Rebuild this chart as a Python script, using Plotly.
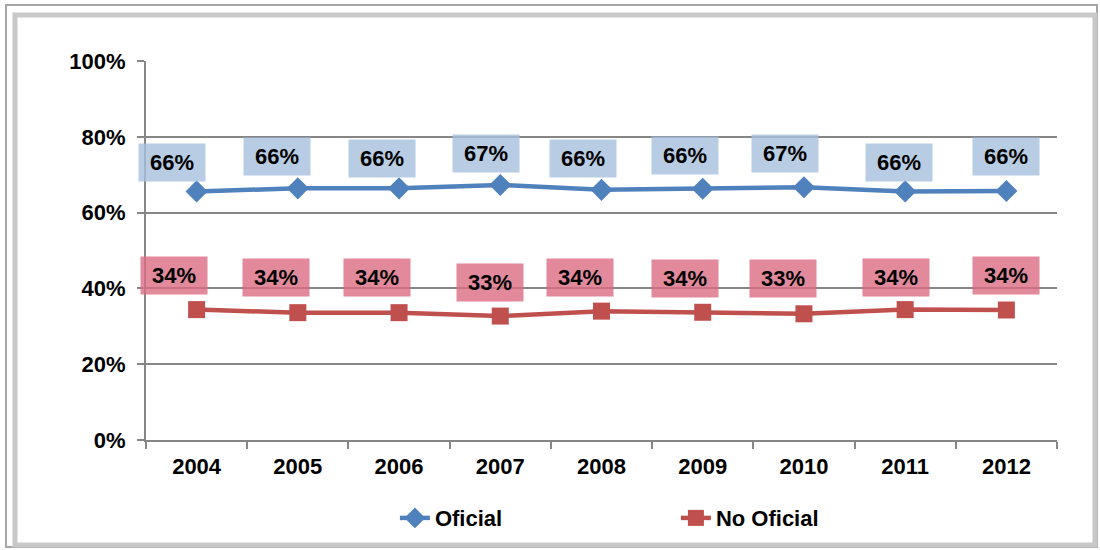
import plotly.graph_objects as go

years = ["2004", "2005", "2006", "2007", "2008", "2009", "2010", "2011", "2012"]
oficial = [65.6, 66.4, 66.4, 67.3, 66.0, 66.3, 66.7, 65.6, 65.7]
no_oficial = [34.4, 33.6, 33.6, 32.7, 34.0, 33.7, 33.3, 34.4, 34.3]
oficial_labels = ["66%", "66%", "66%", "67%", "66%", "66%", "67%", "66%", "66%"]
no_oficial_labels = ["34%", "34%", "34%", "33%", "34%", "34%", "33%", "34%", "34%"]
y_ticks = [0, 20, 40, 60, 80, 100]
y_ticktext = ["0%", "20%", "40%", "60%", "80%", "100%"]

# label offsets (pixels) relative to each point
of_dx = [-25, -21, -17, -14, -19, -18, -19, -6, 0]
of_dy = [29, 32, 30, 31, 31, 33, 34, 29, 35]
no_dx = [-23, -22, -22, -10, -22, -18, -21, -9, 0]
no_dy = [34, 35, 35, 34, 34, 34, 35, 32, 35]

BLUE = "#4f81bd"
RED = "#c0504d"
FONT = "Liberation Sans, Arial, sans-serif"

fig = go.Figure()
fig.add_trace(go.Scatter(x=years, y=oficial, name="Oficial", mode="lines+markers",
                         line=dict(color=BLUE, width=4.5),
                         marker=dict(symbol="diamond", size=17, color=BLUE)))
fig.add_trace(go.Scatter(x=years, y=no_oficial, name="No Oficial", mode="lines+markers",
                         line=dict(color=RED, width=4.5),
                         marker=dict(symbol="square", size=17, color=RED)))

for i, y in enumerate(years):
    fig.add_annotation(x=i, y=oficial[i], xref="x", yref="y", text="<b>%s</b>" % oficial_labels[i],
                       showarrow=False, xshift=of_dx[i], yshift=of_dy[i],
                       bgcolor="rgba(166,192,221,0.8)", width=64, height=35,
                       font=dict(size=22, color="black", family=FONT))
    fig.add_annotation(x=i, y=no_oficial[i], xref="x", yref="y", text="<b>%s</b>" % no_oficial_labels[i],
                       showarrow=False, xshift=no_dx[i], yshift=no_dy[i],
                       bgcolor="rgba(219,109,131,0.8)", width=64, height=35,
                       font=dict(size=22, color="black", family=FONT))

L, R, T, B = 146, 43, 61, 110
PW, PH = 1100 - L - R, 550 - T - B

def px(x):
    return (x - L) / PW

def py(y):
    return (550 - B - y) / PH

fig.add_shape(type="rect", xref="paper", yref="paper", x0=px(6), x1=px(1097), y0=py(547), y1=py(5),
              line=dict(color="#a6a6a6", width=2), layer="below")
fig.add_shape(type="rect", xref="paper", yref="paper", x0=px(15), x1=px(1095), y0=py(545), y1=py(15),
              line=dict(color="#c8c8c8", width=5), layer="below")

fig.update_layout(
    width=1100, height=550,
    margin=dict(l=L, r=R, t=T, b=B, autoexpand=False),
    paper_bgcolor="white", plot_bgcolor="white",
    font=dict(family=FONT, size=22, color="black"),
    showlegend=True,
    legend=dict(orientation="h", xref="container", yref="container", x=0.359, y=0.058,
                xanchor="left", yanchor="middle",
                entrywidth=236, entrywidthmode="pixels", bgcolor="rgba(0,0,0,0)",
                font=dict(size=22, family=FONT, color="black", weight="bold")),
    xaxis=dict(type="category", showgrid=False, showline=True, linecolor="#868686", linewidth=2,
               ticks="outside", tickson="boundaries", ticklen=7, tickcolor="#868686", tickwidth=2,
               ticklabelstandoff=6, automargin=False,
               tickfont=dict(size=22, family=FONT, weight="bold"), range=[-0.5, 8.5]),
    yaxis=dict(range=[0, 100], tickvals=y_ticks, ticktext=y_ticktext, showgrid=True,
               gridcolor="#868686", gridwidth=1.5, showline=True, linecolor="#868686", linewidth=2,
               ticks="outside", ticklen=7, tickcolor="#868686", tickwidth=2, zeroline=False,
               ticklabelstandoff=7, automargin=False,
               tickfont=dict(size=22, family=FONT, weight="bold")),
)

fig.write_html("out.html", config={"displayModeBar": False},
               post_script="document.body.style.margin='0';document.body.style.overflow='hidden';"
                           "document.documentElement.style.overflow='hidden';")
